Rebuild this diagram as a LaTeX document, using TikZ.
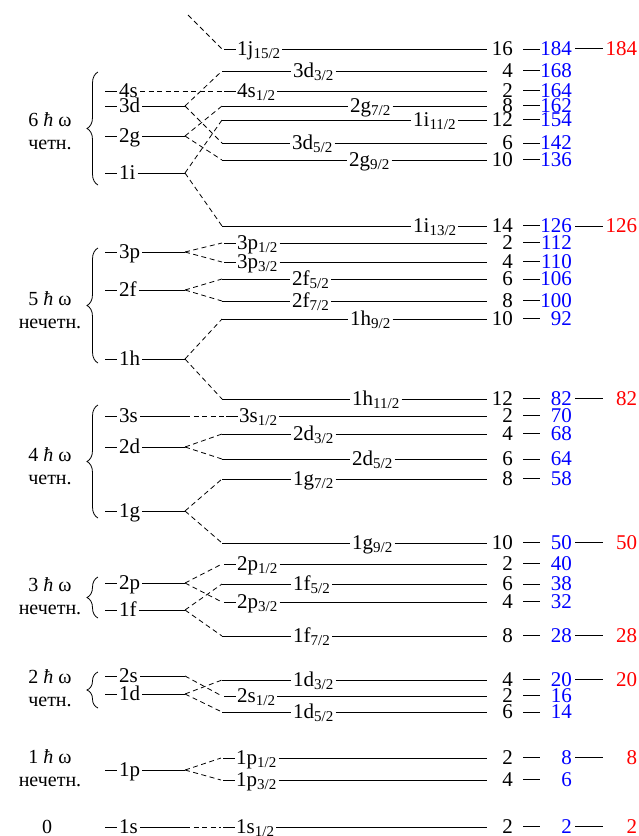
\documentclass[tikz,border=0pt]{standalone}
\usepackage{fontspec}
\setmainfont{Liberation Serif}
\usetikzlibrary{decorations.pathreplacing}
\definecolor{numblue}{RGB}{0,0,255}
\definecolor{numred}{RGB}{255,0,0}
\newcommand{\sbs}[1]{\raisebox{-0.3ex}{\fontsize{15}{15}\selectfont #1}}
\newcommand{\ldash}{\rule[6.4pt]{12pt}{0.9pt}}

\begin{document}
\begin{tikzpicture}[x=1pt, y=-1pt,
    every node/.style={font=\fontsize{21}{23}\selectfont, inner sep=0pt},
    lvlname/.style={anchor=base west, inner sep=2pt},
    shell/.style={anchor=base west, inner sep=2pt},
    deg/.style={anchor=base east},
    magic/.style={anchor=base east, text=numblue},
    closed/.style={anchor=base west, text=numred},
    osc/.style={align=center, font=\fontsize{20}{23}\selectfont},
    lev/.style={line width=0.9pt},
    fan/.style={line width=0.8pt, dash pattern=on 5pt off 3.5pt},
    shbrace/.style={decorate, decoration={brace, amplitude=11pt}, line width=0.8pt}
  ]
  \useasboundingbox (0,0) rectangle (638,836);

  %% oscillator shells
  \node[osc] (o6) at (50,131) {6 \textit{ħ} ω\\четн.};
  \node[osc] (o5) at (50,310) {5 \textit{ħ} ω\\нечетн.};
  \node[osc] (o4) at (50,466) {4 \textit{ħ} ω\\четн.};
  \node[osc] (o3) at (50,596) {3 \textit{ħ} ω\\нечетн.};
  \node[osc] (o2) at (50,688) {2 \textit{ħ} ω\\четн.};
  \node[osc] (o1) at (50,768) {1 \textit{ħ} ω\\нечетн.};
  \node[osc] (o0) at (47,827) {0};

  \draw[shbrace] (98,185) -- (98,72);
  \draw[shbrace] (98,363) -- (98,248);
  \draw[shbrace] (98,518) -- (98,405);
  \draw[shbrace] (98,618) -- (98,577);
  \draw[shbrace] (98,708) -- (98,672);

  \foreach \s/\y in {4s/91,3d/106,2g/136,1i/173,3p/252,2f/290,1h/359,
                     3s/416,2d/447,1g/511,2p/583,1f/610,2s/676,1d/694,
                     1p/770,1s/827}{
    \node[shell] (s\s) at (103,\y+6.8) {\ldash\kern2pt\s};
    \coordinate (p\s) at (185,\y);
  }
  \foreach \s in {3d,2g,1i,3p,2f,1h,3s,2d,1g,2p,1f,2s,1d,1p,1s}
    \draw[lev] (s\s.east |- p\s) -- (p\s);

  %% split levels
  \foreach \n/\y/\a/\x/\t/\g in {
      184/49/222/222/{\ldash\kern1pt 1j\sbs{15/2}}/16,
      168/71/222/291/{3d\sbs{3/2}}/4,
      164/91/222/222/{\ldash\kern1pt 4s\sbs{1/2}}/2,
      162/106/222/348/{2g\sbs{7/2}}/8,
      154/120/222/411/{1i\sbs{11/2}}/12,
      142/143/222/290/{3d\sbs{5/2}}/6,
      136/160/222/347/{2g\sbs{9/2}}/10,
      126/226/222/411/{1i\sbs{13/2}}/14,
      112/243/222/222/{\ldash\kern1pt 3p\sbs{1/2}}/2,
      110/262/222/222/{\ldash\kern1pt 3p\sbs{3/2}}/4,
      106/279/222/290/{2f\sbs{5/2}}/6,
      100/301/222/290/{2f\sbs{7/2}}/8,
      92/319/222/348/{1h\sbs{9/2}}/10,
      82/399/222/350/{1h\sbs{11/2}}/12,
      70/416/224/224/{\ldash\kern1pt 3s\sbs{1/2}}/2,
      68/434/222/291/{2d\sbs{3/2}}/4,
      64/459/222/350/{2d\sbs{5/2}}/6,
      58/479/222/291/{1g\sbs{7/2}}/8,
      50/543/222/350/{1g\sbs{9/2}}/10,
      40/564/222/222/{\ldash\kern1pt 2p\sbs{1/2}}/2,
      38/584/222/291/{1f\sbs{5/2}}/6,
      32/602/222/222/{\ldash\kern1pt 2p\sbs{3/2}}/4,
      28/636/222/291/{1f\sbs{7/2}}/8,
      20/680/222/291/{1d\sbs{3/2}}/4,
      16/696/222/222/{\ldash\kern1pt 2s\sbs{1/2}}/2,
      14/712/222/291/{1d\sbs{5/2}}/6,
      8/758/221/221/{\ldash\kern1pt 1p\sbs{1/2}}/2,
      6/780/221/221/{\ldash\kern1pt 1p\sbs{3/2}}/4,
      2/827/221/221/{\ldash\kern1pt 1s\sbs{1/2}}/2}{
    \coordinate (a\n) at (\a,\y);
    \coordinate (b\n) at (487,\y);
    \node[lvlname] (l\n) at (\x,\y+6.8) {\t};
    \draw[lev] (a\n) -- (l\n.west |- a\n) (l\n.east |- a\n) -- (b\n);
    \node[deg] (g\n) at (513,\y+6.8) {\g};
    \node[magic] (n\n) at (572,\y+6.8) {\n};
    \draw[lev] ([xshift=10pt]g\n.east) -- ++(17,0);
  }

  %% closed shells
  \foreach \n in {184,126,82,50,28,20,8,2}{
    \node[closed] (r\n) at ([xshift=31pt]n\n.base east) {\makebox[34pt][r]{\n}};
    \draw[lev] ([xshift=3pt]n\n.east) -- ++(28,0);
  }

  %% splitting
  \coordinate (jtop) at (188,15);
  \draw[fan] (jtop) -- (a184);
  \draw[fan] (s4s.east |- p4s) -- (a164);
  \foreach \s/\t in {3d/168,3d/142,2g/162,2g/136,1i/154,1i/126,
                     3p/112,3p/110,2f/106,2f/100,1h/92,1h/82,
                     3s/70,2d/68,2d/64,1g/58,1g/50,2p/40,2p/32,
                     1f/38,1f/28,2s/16,1d/20,1d/14,1p/8,1p/6,1s/2}
    \draw[fan] (p\s) -- (a\t);
\end{tikzpicture}
\end{document}
